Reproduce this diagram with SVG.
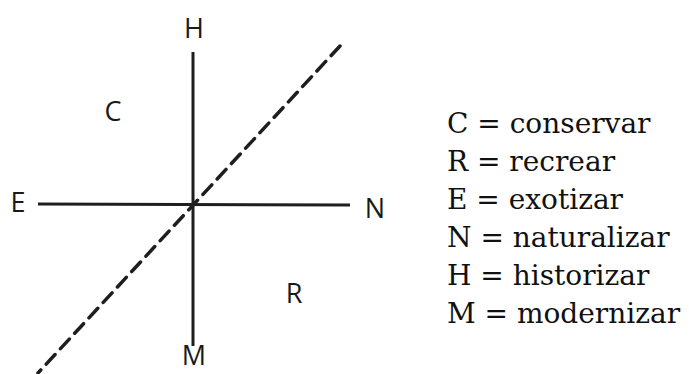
<svg xmlns="http://www.w3.org/2000/svg" width="689" height="374" viewBox="0 0 689 374">
<style>
.axis{stroke:#1e1e1e;stroke-width:3;fill:none;stroke-linecap:butt}
.dash{stroke:#1e1e1e;stroke-width:3.5;fill:none;stroke-dasharray:13 8;stroke-linecap:round}
.lbl{font-family:"Open Sans","Liberation Sans",sans-serif;font-size:27px;fill:#1a1a1a;text-anchor:middle}
.leg{font-family:"DejaVu Serif","Liberation Serif",serif;font-size:28px;fill:#111}
</style>
<rect width="689" height="374" fill="#fff"/>
<g id="connectors">
<line class="axis" x1="193" y1="52" x2="193" y2="346"/>
<line class="axis" x1="38" y1="204" x2="350" y2="205"/>
<line class="dash" x1="340" y1="46" x2="38" y2="373"/>
</g>
<g id="H"><text class="lbl" x="194" y="38">H</text></g>
<g id="M"><text class="lbl" x="194" y="365">M</text></g>
<g id="E"><text class="lbl" x="18" y="212">E</text></g>
<g id="N"><text class="lbl" x="375" y="218">N</text></g>
<g id="C"><text class="lbl" x="113" y="121">C</text></g>
<g id="R"><text class="lbl" x="294" y="303">R</text></g>
<g id="legend">
<text class="leg" x="447" y="133">C = conservar</text>
<text class="leg" x="447" y="171">R = recrear</text>
<text class="leg" x="447" y="209">E = exotizar</text>
<text class="leg" x="447" y="247">N = naturalizar</text>
<text class="leg" x="447" y="285">H = historizar</text>
<text class="leg" x="447" y="323">M = modernizar</text>
</g>
</svg>
